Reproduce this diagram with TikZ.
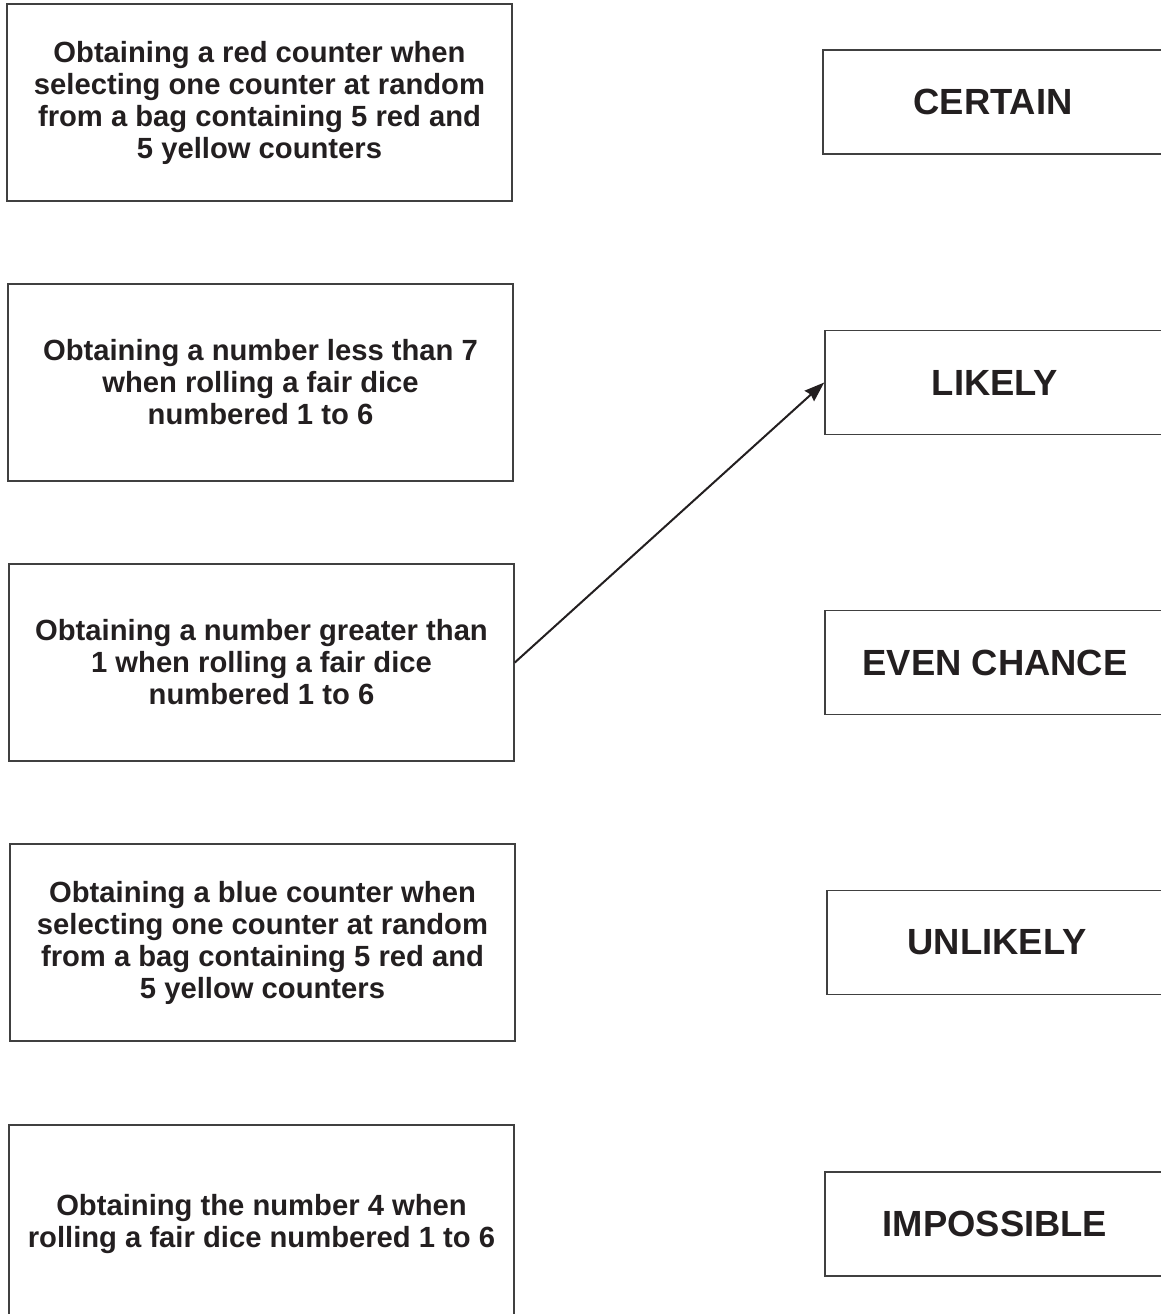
\documentclass[tikz,border=0pt]{standalone}
\usepackage{fontspec}
\setmainfont{Liberation Sans}
\usetikzlibrary{arrows.meta}
\definecolor{ink}{HTML}{231F20}

\begin{document}
\begin{tikzpicture}[x=0.5pt,y=-0.5pt]
\begin{scope}
	\tikzstyle{every node}=[inner sep=0pt, align=center, text=ink]
	\tikzstyle{event}=[draw=black!75, line width=0.8pt, minimum width=252.5pt, minimum height=98.5pt, font=\bfseries\fontsize{14.6}{16}\selectfont]
	\tikzstyle{chance}=[draw=black!75, line width=0.8pt, minimum width=170pt, minimum height=52pt, font=\bfseries\fontsize{18.2}{20}\selectfont]
	\clip (0,0) rectangle (1161,1314);
	\node[event] (red) at (259.5,102.5) {Obtaining a red counter when\\selecting one counter at random\\from a bag containing 5 red and\\5 yellow counters};
	\node[event] (less) at (260.5,382.5) {Obtaining a number less than 7\\when rolling a fair dice\\numbered 1 to 6};
	\node[event] (greater) at (261.5,662.5) {Obtaining a number greater than\\1 when rolling a fair dice\\numbered 1 to 6};
	\node[event] (blue) at (262.5,942.5) {Obtaining a blue counter when\\selecting one counter at random\\from a bag containing 5 red and\\5 yellow counters};
	\node[event] (four) at (261.5,1223.5) {Obtaining the number 4 when\\rolling a fair dice numbered 1 to 6};

	\node[chance] (certain) at (993,102) {CERTAIN};
	\node[chance] (likely) at (995,382.5) {LIKELY};
	\node[chance] (even) at (995,662.5) {EVEN CHANCE};
	\node[chance] (unlikely) at (997,942.5) {UNLIKELY};
	\node[chance] (impossible) at (995,1224) {IMPOSSIBLE};

	\draw [line width=1.0pt, ink][-{Stealth[length=10pt,width=7pt,inset=1pt]}] (greater.east) -- (likely.west);
\end{scope}
\end{tikzpicture}
\end{document}
